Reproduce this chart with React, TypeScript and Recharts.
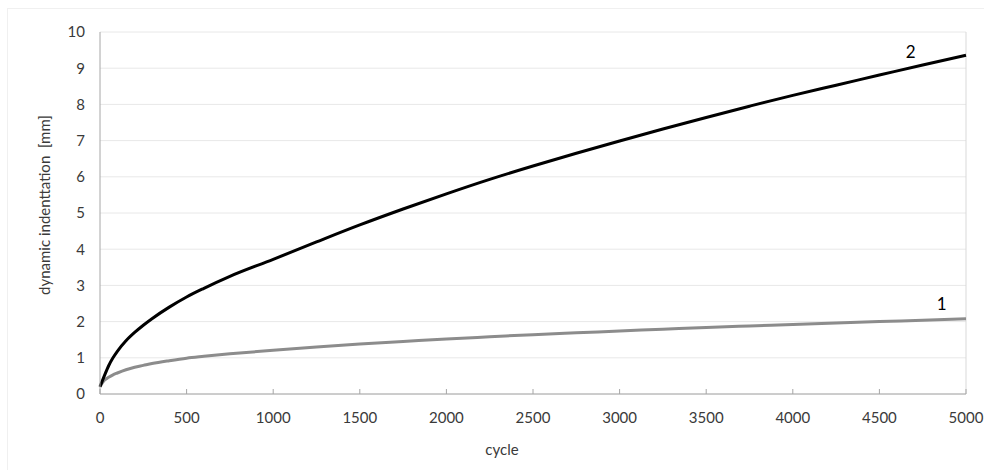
import React from 'react';
import { LineChart, Line, XAxis, YAxis, CartesianGrid, ReferenceLine, ReferenceDot } from 'recharts';

const cycles = [0, 25, 50, 75, 100, 150, 200, 250, 300, 400, 500, 600, 750, 1000, 1250, 1500, 1750, 2000, 2250, 2500, 2750, 3000, 3250, 3500, 3750, 4000, 4250, 4500, 4750, 5000];
const series1 = [0.2, 0.38, 0.46, 0.53, 0.58, 0.67, 0.74, 0.79, 0.84, 0.92, 0.99, 1.04, 1.11, 1.21, 1.3, 1.38, 1.45, 1.52, 1.58, 1.64, 1.69, 1.74, 1.79, 1.84, 1.88, 1.92, 1.96, 2.0, 2.04, 2.08];
const series2 = [0.2, 0.5, 0.78, 1.0, 1.18, 1.47, 1.7, 1.9, 2.08, 2.4, 2.68, 2.92, 3.25, 3.72, 4.2, 4.67, 5.11, 5.53, 5.93, 6.3, 6.65, 6.99, 7.32, 7.64, 7.95, 8.25, 8.53, 8.81, 9.09, 9.36];
const xTicks = [0, 500, 1000, 1500, 2000, 2500, 3000, 3500, 4000, 4500, 5000];
const yTicks = [0, 1, 2, 3, 4, 5, 6, 7, 8, 9, 10];
const xLabel = 'cycle';
const yLabel = 'dynamic indenttation  [mm]';

const data = cycles.map((c, i) => ({ x: c, s1: series1[i], s2: series2[i] }));

const FONT = 'Lato, "Open Sans", sans-serif';
const TXT = '#3a3a3a';
const FS = 15;

const XTick = (props: any) => {
  const { x, y, payload } = props;
  return (
    <g>
      <line x1={x} x2={x} y1={y - 18} y2={y - 23} stroke="#a6a6a6" strokeWidth={1} />
      <text x={x} y={y} dy="0.71em" textAnchor="middle" fontSize={FS} fontFamily={FONT} fill={TXT}>
        {payload.value}
      </text>
    </g>
  );
};

export default function App() {
  return (
    <div style={{ position: 'absolute', left: 0, top: 0, width: 984, height: 470, background: '#fff' }}>
      <div style={{ position: 'absolute', left: 7, top: 8, width: 990, height: 480, border: '1px solid #f0f0f0' }} />
      <LineChart
        width={984}
        height={470}
        data={data}
        margin={{ top: 32, right: 18, left: 0, bottom: 0 }}
        style={{ position: 'absolute', left: 0, top: 0 }}
      >
        <CartesianGrid horizontal={true} vertical={false} stroke="#e8e8e8" strokeWidth={1} />
        <ReferenceLine x={5000} stroke="#d9d9d9" strokeWidth={1} />
        <XAxis
          type="number"
          dataKey="x"
          domain={[0, 5000]}
          ticks={xTicks}
          interval={0}
          height={76}
          tickSize={0}
          tickMargin={18}
          tickLine={false}
          axisLine={{ stroke: '#a6a6a6', strokeWidth: 1 }}
          tick={<XTick />}
          label={{
            content: (p: any) => {
              const vb = p.viewBox;
              return (
                <text x={vb.x + vb.width / 2 - 31} y={vb.y + 56} dy="0.35em" textAnchor="middle" fontSize={FS} fontFamily={FONT} fill={TXT}>
                  {xLabel}
                </text>
              );
            },
          }}
        />
        <YAxis
          type="number"
          domain={[0, 10]}
          ticks={yTicks}
          interval={0}
          width={100}
          tickSize={0}
          tickMargin={15}
          tickLine={false}
          axisLine={{ stroke: '#a6a6a6', strokeWidth: 1 }}
          tick={{ fontSize: FS, fontFamily: FONT, fill: TXT }}
          label={{
            content: (p: any) => {
              const vb = p.viewBox;
              const cx = vb.x + 45;
              const cy = vb.y + vb.height / 2 - 8;
              return (
                <text x={cx} y={cy} dy="0.35em" textAnchor="middle" fontSize={FS} fontFamily={FONT} fill={TXT} transform={`rotate(-90 ${cx} ${cy})`} style={{ whiteSpace: 'pre' }}>
                  {yLabel}
                </text>
              );
            },
          }}
        />
        <Line type="monotone" dataKey="s1" stroke="#8c8c8c" strokeWidth={3} dot={false} isAnimationActive={false} />
        <Line type="monotone" dataKey="s2" stroke="#000000" strokeWidth={3} dot={false} isAnimationActive={false} />
        <ReferenceDot x={4680} y={9.45} r={0} fill="none" stroke="none" label={{ value: '2', position: 'center', fontSize: 17, fontFamily: FONT, fill: '#000' }} />
        <ReferenceDot x={4860} y={2.5} r={0} fill="none" stroke="none" label={{ value: '1', position: 'center', fontSize: 17, fontFamily: FONT, fill: '#000' }} />
      </LineChart>
    </div>
  );
}
